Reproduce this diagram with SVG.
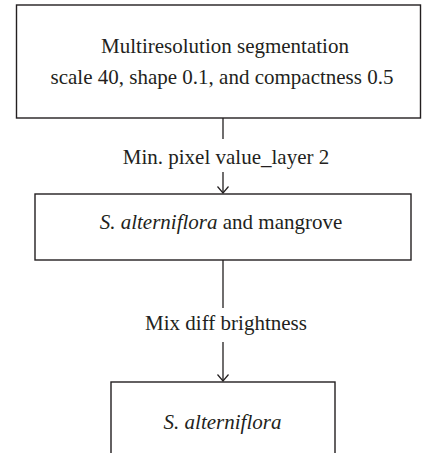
<svg xmlns="http://www.w3.org/2000/svg" width="422" height="453" viewBox="0 0 422 453">
<style>
.box{fill:#fff;stroke:#231f20;stroke-width:1.4}
.t{font-family:"Liberation Serif","Times New Roman",serif;font-size:21px;fill:#231f20;text-anchor:middle}
.i{font-style:italic}
.c{stroke:#231f20;stroke-width:1.3;fill:none}
</style>
<defs>
<marker id="arr" markerWidth="12" markerHeight="12" refX="7" refY="6" orient="auto" markerUnits="userSpaceOnUse">
<path d="M0.5,0.5 L7,6 L0.5,11.5" fill="none" stroke="#231f20" stroke-width="1.2"/>
</marker>
</defs>
<rect width="422" height="453" fill="#fff"/>
<g id="connectors">
<line class="c" x1="223" y1="118" x2="223" y2="139"/>
<line class="c" x1="223" y1="172" x2="223" y2="193" marker-end="url(#arr)"/>
<text class="t" x="226" y="164">Min. pixel value_layer 2</text>
<line class="c" x1="223" y1="260" x2="223" y2="308"/>
<line class="c" x1="223" y1="342" x2="223" y2="381" marker-end="url(#arr)"/>
<text class="t" x="226" y="330">Mix diff brightness</text>
</g>
<g id="node1">
<rect class="box" x="16.5" y="5" width="404" height="113"/>
<text class="t" x="225" y="53">Multiresolution segmentation</text>
<text class="t" x="222" y="84">scale 40, shape 0.1, and compactness 0.5</text>
</g>
<g id="node2">
<rect class="box" x="35" y="194" width="376" height="66"/>
<text class="t" x="221" y="229"><tspan class="i">S. alterniflora</tspan> and mangrove</text>
</g>
<g id="node3">
<rect class="box" x="111" y="382" width="224" height="80"/>
<text class="t i" x="222.5" y="429">S. alterniflora</text>
</g>
</svg>
